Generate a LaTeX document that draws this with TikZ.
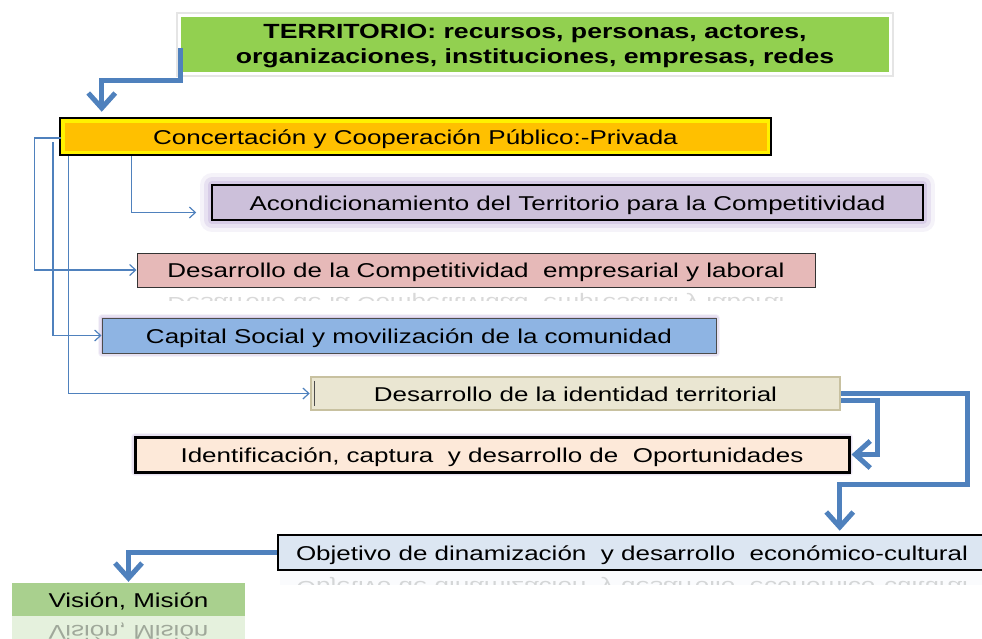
\documentclass[tikz,border=0pt]{standalone}
\usepackage{fontspec}
\setmainfont{Liberation Sans}[FakeStretch=1.3]
\usetikzlibrary{arrows.meta}
\definecolor{linkblue}{HTML}{4F81BD}
\definecolor{terrgreen}{HTML}{92D050}
\definecolor{concorange}{HTML}{FFC000}
\definecolor{aconlilac}{HTML}{CCC0DA}
\definecolor{comppink}{HTML}{E6B9B8}
\definecolor{capiblue}{HTML}{8EB4E3}
\definecolor{idenbeige}{HTML}{EAE6D2}
\definecolor{idenedge}{HTML}{C8C1A0}
\definecolor{oportpeach}{HTML}{FDE9D9}
\definecolor{objblue}{HTML}{DCE6F2}
\definecolor{visgreen}{HTML}{A9D08E}
\definecolor{glowviolet}{HTML}{B09BD0}
\tikzset{
  box/.style={inner sep=0pt, minimum height=35pt, text height=17pt, text depth=2pt,
              font=\fontsize{20}{24}\selectfont},
  glow/.style={preaction={draw=glowviolet, line width=#1, opacity=.12, line join=round},
               preaction={draw=glowviolet, line width=#1*0.65, opacity=.2, line join=round},
               preaction={draw=glowviolet, line width=#1*0.35, opacity=.3, line join=round}},
  link/.style={linkblue, line width=1.2pt, -{Straight Barb[length=6pt,width=11pt]}},
  bigarrow/.style={linkblue, line width=5pt, -{Straight Barb[length=15pt,width=27pt]}},
  mirror/.style={box, text height=2pt, text depth=17pt, opacity=.15}
}
\begin{document}
\begin{tikzpicture}[x=1pt,y=-1pt]
  \useasboundingbox (0,0) rectangle (982,638);
  % Territorio
  \node[inner sep=0pt, fill=terrgreen, draw=white, line width=3pt, preaction={draw=black!10, line width=7pt},
        minimum width=711pt, minimum height=58pt, align=center,
        font=\fontsize{20.5}{25}\selectfont\bfseries] (terr) at (535,44)
        {\rule{0pt}{19pt}TERRITORIO: recursos, personas, actores,\\organizaciones, instituciones, empresas, redes};
  % Concertacion
  \node[box, fill=concorange, draw=black, line width=2.5pt, minimum width=711pt, minimum height=37pt,
        path picture={\draw[yellow, line width=9pt] (path picture bounding box.south west)
                      rectangle (path picture bounding box.north east);}] (conc) at (415.5,136.5)
        {Concertación y Cooperación Público:-Privada};
  % Ejes
  \node[box, glow=24pt, fill=aconlilac, draw=black, line width=1.5pt, minimum width=711pt] (acon) at (567.5,202.5)
        {Acondicionamiento del Territorio para la Competitividad};
  \node[box, fill=comppink, draw=black!80, line width=1pt, minimum width=678pt, minimum height=34pt] (comp) at (476,270)
        {Desarrollo de la Competitividad\ \ empresarial y laboral};
  \node[box, glow=8pt, fill=capiblue, draw=black!70, line width=1pt, minimum width=614pt] (capi) at (409,335.5)
        {Capital Social y movilización de la comunidad};
  \node[box, fill=idenbeige, draw=idenedge, line width=2.5pt, minimum width=529pt, minimum height=33pt] (iden) at (575.5,393.5)
        {Desarrollo de la identidad territorial};
  \draw[black!70, line width=1.2pt] ([xshift=5pt,yshift=-5pt]iden.north west) -- ([xshift=5pt,yshift=5pt]iden.south west);
  \node[box, glow=8pt, fill=oportpeach, draw=black, line width=3pt, minimum width=714pt] (oport) at (492,454.5)
        {Identificación, captura\ \ y desarrollo de\ \ Oportunidades};
  % Objetivo y vision
  \node[box, fill=objblue, draw=black, line width=2.5pt, minimum width=708pt] (obj) at (632,552.5)
        {Objetivo de dinamización\ \ y desarrollo\ \ económico-cultural};
  \node[box, fill=visgreen, minimum width=233pt, minimum height=33pt] (vis) at (128.5,599.5) {Visión, Misión};
  % Reflejos
  \begin{scope}
    \clip (comp.south west) rectangle ([yshift=-13pt]comp.south east);
    \node[mirror, minimum width=678pt] at ([yshift=-17pt]comp.south) {\scalebox{1}[-1]{Desarrollo de la Competitividad\ \ empresarial y laboral}};
  \end{scope}
  \begin{scope}
    \clip (obj.south west) rectangle ([yshift=-13pt]obj.south east);
    \node[mirror, fill=objblue, minimum width=704pt] at ([yshift=-17.5pt]obj.south) {\scalebox{1}[-1]{Objetivo de dinamización\ \ y desarrollo\ \ económico-cultural}};
  \end{scope}
  \begin{scope}
    \clip (vis.south west) rectangle ([yshift=-22pt]vis.south east);
    \node[mirror, fill=visgreen, opacity=.3, minimum width=233pt, minimum height=33pt] at ([yshift=-16.5pt]vis.south) {\scalebox{1}[-1]{Visión, Misión}};
  \end{scope}
  % Conectores finos
  \coordinate (capfree) at (53,142);
  \draw[link] ([xshift=73pt]conc.south west) |- ([xshift=-15pt,yshift=-10pt]acon.west);
  \draw[link] ([xshift=2pt,yshift=-1.5pt]conc.west) -- ++(-26,0) |- (comp.west);
  \draw[link] (capfree) |- (capi.west);
  \draw[link] ([xshift=10pt]conc.south west) |- (iden.west);
  % Flechas gruesas
  \draw[bigarrow, shorten >=5pt] ([xshift=2pt,yshift=-4pt]terr.west) -- ++(0,32) -| ([xshift=43pt]conc.north west);
  \draw[bigarrow, shorten >=1pt] ([yshift=-7pt]iden.east) -- ++(36,0) |- (oport.east);
  \draw[bigarrow, shorten >=3pt] (iden.east) -- ++(126,0) -- ++(0,91) -| ([xshift=563pt]obj.north west);
  \draw[bigarrow, shorten >=1pt] (obj.west) -| (vis.north);
\end{tikzpicture}
\end{document}
